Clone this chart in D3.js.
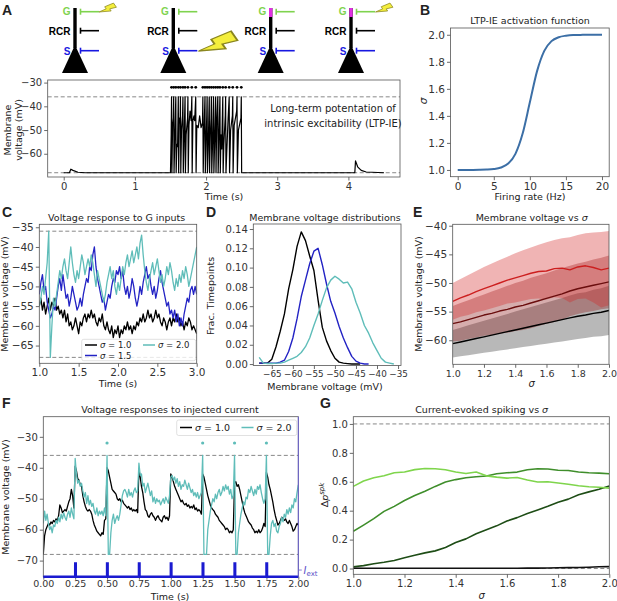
<!DOCTYPE html>
<html>
<head>
<meta charset="utf-8">
<script src="https://cdn.jsdelivr.net/npm/d3@7"></script>
<style>
  body { margin: 0; background: #fff; }
  text { font-family: "DejaVu Sans", sans-serif; fill: #222; }
  .tick text { font-size: 10px; fill: #333; }
  .tick line { stroke: #444; stroke-width: 0.8; }
  .domain { stroke: none; }
</style>
</head>
<body>
<svg id="fig" width="617" height="601"></svg>
<script>

// ---- data ----
var vThresh = -36, vReset = -68;

// A: voltage trace during the protocol, [time s, mV]
var traceA = [[0,-68],[0.08,-68],[0.1,-66.5],[0.13,-67],[0.2,-67.8],[0.3,-68],[1.5,-68],
  [1.51,-52],[1.515,-36],[1.52,-68],[1.53,-48],[1.54,-45],[1.545,-36],[1.55,-68],[1.56,-55],[1.575,-36],[1.58,-68],
  [1.59,-56],[1.6,-57],[1.61,-36],[1.615,-68],[1.625,-45],[1.635,-47],[1.64,-36],[1.645,-68],[1.655,-50],[1.67,-44],
  [1.675,-36],[1.68,-68],[1.69,-56],[1.705,-36],[1.71,-68],[1.72,-52],[1.74,-45],[1.745,-36],[1.75,-68],[1.76,-48],
  [1.775,-42],[1.79,-46],[1.8,-36],[1.805,-68],[1.815,-46],[1.83,-44],[1.84,-46],[1.855,-36],[1.86,-68],[1.87,-48],
  [1.89,-49],[1.91,-44],[1.93,-49],[1.95,-47],[1.955,-36],[1.96,-68],[1.97,-52],[1.985,-36],[1.99,-68],[2.0,-55],
  [2.01,-44],[2.015,-36],[2.02,-68],[2.03,-58],[2.045,-36],[2.05,-68],[2.06,-52],[2.07,-45],[2.075,-36],[2.08,-68],
  [2.09,-57],[2.105,-36],[2.11,-68],[2.12,-56],[2.135,-36],[2.14,-68],[2.15,-47],[2.165,-36],[2.17,-68],[2.18,-55],
  [2.195,-36],[2.2,-68],[2.21,-52],[2.22,-58],[2.235,-36],[2.24,-68],[2.25,-56],[2.27,-44],[2.275,-36],[2.28,-68],
  [2.29,-60],[2.31,-45],[2.325,-36],[2.33,-68],[2.345,-50],[2.37,-44],[2.375,-36],[2.38,-68],[2.395,-48],[2.43,-42],
  [2.435,-36],[2.44,-68],[2.455,-50],[2.49,-45],[2.495,-36],[2.5,-68],[4.09,-68],[4.1,-63],[4.13,-65.5],[4.18,-67],
  [4.25,-67.7],[4.5,-68]];
var spikesA = [1.515,1.545,1.575,1.61,1.64,1.675,1.705,1.745,1.8,1.855,1.955,1.985,2.015,2.045,2.075,2.105,
  2.135,2.165,2.195,2.235,2.275,2.325,2.375,2.435,2.495];
var spikeMarkV = -32;

// B: activation function
var bRate = [0,1,2,3,4,5,6,7,8,9,10,11,12,13,14,15,16,17,18,19,20];
var bSigma = [1.0,1.0001,1.0003,1.0009,1.0025,1.0067,1.018,1.047,1.119,1.269,1.5,1.731,1.881,1.953,1.982,
  1.993,1.998,1.999,2.0,2.0,2.0];

// C: voltage response to G inputs, sampled every 0.02 s from 1.0 s
var cStart = 1.0, cStep = 0.02;
var cSig10 = [-55,-53,-56,-54,-57,-55,-53,-56,-54,-55,-53,-56,-55,-57,-56,-58,-56,-59,-57,-60,-59,-61,-60,-58,
  -60,-62,-59,-60,-58,-57,-59,-57,-58,-56,-58,-57,-59,-60,-58,-59,-57,-60,-61,-59,-61,-62,-60,-63,-61,-62,-60,
  -63,-61,-62,-60,-61,-59,-61,-60,-62,-60,-61,-59,-60,-58,-59,-57,-59,-58,-56,-58,-57,-59,-58,-56,-58,-57,-59,
  -60,-58,-59,-61,-59,-58,-60,-58,-59,-57,-59,-58,-60,-59,-61,-59,-60,-58,-59,-61,-60,-61,-62];
var cSig15 = [-52,-49,-47,-51,-50,-54,-56,-58,-57,-55,-56,-53,-50,-48,-51,-47,-50,-53,-52,-55,-53,-50,-52,-54,
  -56,-55,-53,-55,-52,-50,-48,-49,-45,-46,-42,-40,-45,-48,-50,-52,-54,-53,-56,-54,-52,-53,-50,-48,-49,-46,-47,
  -45,-48,-46,-50,-52,-50,-53,-51,-48,-50,-53,-55,-53,-50,-52,-49,-47,-45,-48,-47,-50,-52,-50,-53,-51,-48,-46,
  -49,-51,-53,-55,-54,-57,-56,-58,-56,-59,-57,-60,-58,-60,-57,-55,-53,-54,-51,-50,-52,-50,-52];
var cSig20 = [-55,-53,-50,-52,-48,-44,-36,-68,-60,-53,-55,-52,-49,-46,-48,-45,-43,-46,-48,-44,-40,-44,-47,-49,
  -46,-48,-45,-42,-44,-47,-45,-43,-45,-42,-44,-47,-50,-46,-48,-50,-52,-54,-52,-49,-47,-45,-48,-46,-50,-52,-49,
  -51,-48,-45,-47,-44,-42,-45,-43,-41,-44,-42,-40,-43,-39,-37,-42,-46,-49,-51,-48,-46,-44,-47,-45,-43,-46,-49,
  -47,-50,-48,-45,-47,-44,-46,-49,-51,-48,-50,-47,-49,-46,-48,-45,-47,-50,-48,-46,-44,-42,-40];

// D: membrane voltage distributions
var dVolt = [-68,-67,-66,-65,-64,-63,-62,-61,-60,-59,-58,-57,-56,-55,-54,-53,-52,-51,-50,-49,-48,-47,-46,-45,
  -44,-43,-42,-41,-40,-39,-38,-37,-36];
var dSig10 = [0.001,0.001,0.001,0.005,0.018,0.034,0.052,0.078,0.098,0.122,0.137,0.128,0.112,0.097,0.066,0.038,
  0.024,0.014,0.006,0.002,0.001,0.0005,0,0,0,null,null,null,null,null,null,null,null];
var dSig15 = [0.001,0.001,0.001,0.001,0.001,0.002,0.004,0.013,0.027,0.047,0.07,0.087,0.104,0.117,0.12,0.103,
  0.083,0.065,0.053,0.039,0.027,0.017,0.008,0.003,0.001,0,0,null,null,null,null,null,null];
var dSig20 = [0.007,0.001,0.0005,0.0005,0.001,0.001,0.002,0.004,0.006,0.008,0.012,0.018,0.027,0.04,0.052,0.066,
  0.079,0.087,0.091,0.088,0.084,0.085,0.078,0.064,0.053,0.04,0.032,0.022,0.014,0.006,0.002,0.001,0];

// E: mean and spread of membrane voltage vs sigma
var eSigma = [1.0,1.05,1.1,1.15,1.2,1.25,1.3,1.35,1.4,1.45,1.5,1.55,1.6,1.65,1.7,1.75,1.8,1.85,1.9,1.95,2.0];
var eBlackMean = [-60.6,-60.3,-60.0,-59.7,-59.4,-59.1,-58.8,-58.5,-58.2,-57.9,-57.6,-57.3,-57.0,-56.7,-56.4,-56.1,
  -55.8,-55.6,-55.3,-55.1,-54.8];
var eBlackLo = [-63.0,-62.8,-62.6,-62.4,-62.2,-62.0,-61.8,-61.6,-61.4,-61.2,-61.0,-60.8,-60.6,-60.4,-60.2,-60.0,
  -59.8,-59.6,-59.4,-59.3,-59.1];
var eBlackHi = [-58.2,-57.8,-57.4,-57.0,-56.6,-56.2,-55.8,-55.4,-55.0,-54.6,-54.2,-53.8,-53.4,-53.0,-52.6,-52.2,
  -51.8,-51.6,-51.2,-50.9,-50.5];
var eDarkMean = [-57.1,-56.8,-56.4,-56.0,-55.6,-55.3,-54.9,-54.6,-54.2,-53.9,-53.5,-53.1,-52.7,-52.3,-51.9,-51.4,
  -51.0,-50.7,-50.4,-50.1,-49.8];
var eDarkLo = [-60.2,-60.1,-59.8,-59.5,-59.2,-59.1,-58.8,-58.7,-58.4,-58.2,-57.9,-57.5,-57.1,-56.8,-56.4,-55.8,
  -55.4,-55.1,-54.9,-54.6,-54.4];
var eDarkHi = [-54.0,-53.5,-53.0,-52.5,-52.0,-51.5,-51.0,-50.5,-50.0,-49.6,-49.1,-48.7,-48.3,-47.8,-47.4,-47.0,
  -46.6,-46.3,-45.9,-45.6,-45.2];
var eRedMean = [-53.2,-52.6,-52.1,-51.5,-51.0,-50.5,-50.0,-49.5,-49.1,-48.7,-48.3,-48.0,-47.9,-47.5,-47.4,-47.7,
  -47.2,-47.0,-47.3,-47.7,-47.4];
var eRedLo = [-56.4,-55.9,-55.6,-55.1,-54.8,-54.4,-54.0,-53.6,-53.4,-53.1,-52.8,-52.7,-52.9,-52.5,-52.6,-53.4,
  -52.8,-52.7,-53.4,-54.3,-53.9];
var eRedHi = [-50.0,-49.3,-48.6,-47.9,-47.2,-46.6,-46.0,-45.4,-44.8,-44.3,-43.8,-43.3,-42.9,-42.5,-42.2,-42.0,
  -41.6,-41.3,-41.2,-41.1,-40.9];

// F: responses to injected current, sampled every 0.01 s from 0 s
var fStep = 0.01;
var fSig10 = [-68,-62,-60,-59,-58,-58.5,-57.5,-58,-57,-57.5,-56.5,-57,-55.5,-52,-53,-54.5,-54,-53.5,-54,-52.5,
  -51,-50,-47,-49,-53,-39.5,-41,-43.5,-44,-45.5,-46,-49,-51,-52.5,-53.5,-54,-53.5,-54,-55,-57,-58.5,-59.5,-60.5,
  -61,-61.5,-62,-61,-61.5,-57,-56.5,-40,-41,-43,-45,-47,-47.5,-48,-48.5,-50,-50.5,-50,-51,-50.5,-51.5,-52,-52.5,
  -53,-52.5,-53.5,-53,-54,-53.5,-54,-53.5,-54.5,-40.5,-43,-46,-48,-51,-53.5,-54,-55.5,-56,-55,-54.5,-55.5,-56,
  -57,-56,-55.5,-56.5,-57,-57.5,-56,-55.5,-56.5,-56,-57,-55.5,-42,-43,-44.5,-46,-47,-48,-49,-50,-51,-50.5,-51.5,
  -52,-51.5,-52.5,-52,-53,-52.5,-53,-52,-53.5,-53,-54,-53.5,-54,-55,-42,-43,-45,-47,-49,-50.5,-52,-53,-53.5,-54,
  -55,-55.5,-56,-57,-57.5,-58,-58.5,-59,-60,-59.5,-60,-61,-60.5,-61,-60,-45,-44.5,-46,-45.5,-47,-49,-51,-53,-54.5,
  -55.5,-56.5,-57.5,-58,-58.5,-59.5,-60,-61,-60.5,-61,-60,-61,-60.5,-59.5,-58,-59,-41.5,-43,-45.5,-47,-49,-51,
  -53.5,-55.5,-57,-58.5,-58,-57,-56,-56.5,-57,-56.5,-57.5,-58,-57,-58,-59,-60.5,-60,-59,-58,-58.5];
var fSig20 = [-58,-54,-57,-55,-58,-60,-59,-61,-58.5,-59,-57,-58,-56,-57.5,-55,-56.5,-54.5,-56,-57,-55,-54,-56,
  -53,-55,-56.5,-37,-42,-45,-44,-46,-45,-47.5,-49.5,-48,-51.5,-49,-52,-50.5,-52.5,-51.5,-54,-55,-53,-55.5,-54,
  -55,-54,-55.5,-53,-55.5,-36,-68,-68,-61,-57,-55,-58,-56.5,-55.5,-57,-55,-52,-49,-47.5,-47,-48,-49.5,-47,-49,
  -48,-49.5,-47.5,-46.5,-48,-47.5,-38.5,-42.5,-42,-46,-45,-48,-46.5,-45,-47,-49,-47.5,-51,-49.5,-51.5,-50,-51,
  -50.5,-52,-51,-50,-51.5,-49.5,-50.5,-51.5,-49,-43,-42.5,-44,-43,-45,-43.5,-46,-44.5,-47,-45.5,-46,-44,-45.5,
  -47,-45,-46.5,-48,-47,-49,-48,-49.5,-48,-50,-49,-48,-36,-68,-68,-68,-60,-57,-54,-52,-50,-51,-48.5,-50,-48,-47,
  -49,-48,-46,-47.5,-45.5,-47,-46,-48.5,-47,-50,-49,-36,-68,-68,-61,-58,-55,-53,-51,-52,-49.5,-50,-47,-48,-46,
  -47.5,-49,-47,-48.5,-46,-47,-45.5,-48,-50,-51.5,-50,-36,-68,-68,-62,-58,-57,-59,-58,-60.5,-61,-59,-58,-56,
  -57.5,-55,-56,-53.5,-55,-53,-54.5,-52,-53,-50,-51,-48,-45.5];
var fSpikes = [0.5,1.25,1.5,1.75];
var fPulses = [0.25,0.5,0.75,1.0,1.25,1.5,1.75];
var fPulseLen = 0.005;

// G: current-evoked spiking vs sigma
var gSigma = [1.0,1.04,1.08,1.12,1.16,1.2,1.24,1.28,1.32,1.36,1.4,1.44,1.48,1.52,1.56,1.6,1.64,1.68,1.72,1.76,
  1.8,1.84,1.88,1.92,1.96,2.0];
var gLight = [0.568,0.605,0.628,0.642,0.662,0.668,0.684,0.692,0.69,0.683,0.668,0.657,0.667,0.641,0.632,0.625,
  0.63,0.612,0.598,0.6,0.592,0.583,0.572,0.565,0.562,0.556];
var gMid = [0.257,0.3,0.345,0.395,0.43,0.47,0.505,0.535,0.568,0.598,0.615,0.628,0.635,0.64,0.655,0.662,0.667,
  0.683,0.69,0.688,0.68,0.678,0.668,0.662,0.66,0.655];
var gDark = [0.012,0.02,0.033,0.043,0.055,0.075,0.092,0.108,0.122,0.145,0.18,0.205,0.24,0.268,0.295,0.328,0.352,
  0.38,0.405,0.43,0.458,0.48,0.51,0.53,0.548,0.57];
var gBlack = [0.003,0.002,0.002,0.002,0.002,0.002,0.002,0.002,0.002,0.002,0.002,0.002,0.002,0.002,0.002,0.002,
  0.002,0.003,0.003,0.004,0.005,0.006,0.007,0.009,0.012,0.013];

var cBlue = "#2323c4", cCyan = "#5fbdb9";

// ---- helpers ----
var svg = d3.select("#fig");
var nPanel = 0;

function panel(o) {
  nPanel++;
  var ts = o.ts || 3.5, tp = o.tp || 2;
  var x = d3.scaleLinear().domain(o.xd).range([o.left, o.right]);
  var y = d3.scaleLinear().domain(o.yd).range([o.bottom, o.top]);
  var g = svg.append("g");
  svg.append("clipPath").attr("id", "clip" + nPanel)
    .append("rect")
    .attr("x", o.left).attr("y", o.top)
    .attr("width", o.right - o.left).attr("height", o.bottom - o.top);
  var plot = g.append("g").attr("clip-path", "url(#clip" + nPanel + ")");
  var ax = g.append("g").attr("transform", "translate(0," + o.bottom + ")")
    .call(d3.axisBottom(x).tickValues(o.xt).tickFormat(d3.format(o.xf)).tickSize(ts).tickPadding(tp));
  var ay = g.append("g").attr("transform", "translate(" + o.left + ",0)")
    .call(d3.axisLeft(y).tickValues(o.yt).tickFormat(d3.format(o.yf)).tickSize(3.5).tickPadding(2));
  ax.selectAll(".tick text").style("font-size", (o.xfs || o.fs) + "px");
  ay.selectAll(".tick text").style("font-size", o.fs + "px");
  var frame = g.append("rect")
    .attr("x", o.left).attr("y", o.top)
    .attr("width", o.right - o.left).attr("height", o.bottom - o.top)
    .attr("fill", "none").attr("stroke", "#555").attr("stroke-width", 0.8);
  return { x: x, y: y, g: g, plot: plot, o: o, frame: frame };
}

function text(x, y, s, size, anchor, rot) {
  var t = svg.append("text")
    .attr("x", x).attr("y", y)
    .attr("font-size", size)
    .attr("text-anchor", anchor || "middle")
    .text(s);
  if (rot) t.attr("transform", "rotate(" + rot + "," + x + "," + y + ")");
  return t;
}

function letter(x, y, s) {
  svg.append("text").attr("x", x).attr("y", y)
    .style("font-family", "'Liberation Sans', Arial, sans-serif")
    .style("font-weight", "bold").attr("font-size", 14).text(s);
}

function hdash(p, v) {
  p.plot.append("line")
    .attr("x1", p.o.left).attr("x2", p.o.right)
    .attr("y1", p.y(v)).attr("y2", p.y(v))
    .attr("stroke", "#888").attr("stroke-width", 1).attr("stroke-dasharray", "4,2.5");
}

function drawLine(p, pts, color, w) {
  p.plot.append("path").datum(pts)
    .attr("fill", "none").attr("stroke", color).attr("stroke-width", w)
    .attr("stroke-linejoin", "round")
    .attr("d", d3.line()
      .defined(function(d) { return d[1] !== null; })
      .x(function(d) { return p.x(d[0]); })
      .y(function(d) { return p.y(d[1]); }));
}

function zip(xs, ys) {
  return ys.map(function(v, i) { return [xs[i], v]; });
}

function sampled(t0, dt, ys) {
  return ys.map(function(v, i) { return [t0 + i * dt, v]; });
}

function sigmaText(x, y, rest, size, anchor) {
  var t = svg.append("text").attr("x", x).attr("y", y)
    .attr("font-size", size).attr("text-anchor", anchor || "start");
  t.append("tspan").style("font-style", "italic").text("σ");
  if (rest) t.append("tspan").text(rest);
  return t;
}

// ---- A: schematic neurons ----
var cGreen = "#7fd34e", cS = "#1818e0", cMag = "#e030e0";

function bolt(tx, ty, s, rot) {
  var pts = [[0.1,-1],[0.6,-1],[0.35,-0.62],[0.6,-0.62],[0,0],[0.15,-0.45],[-0.1,-0.45]];
  svg.append("polygon")
    .attr("points", pts.map(function(p) { return p.join(","); }).join(" "))
    .attr("transform", "translate(" + tx + "," + ty + ") rotate(" + rot + ") scale(" + (s * 0.6) + "," + s + ")")
    .attr("fill", "#f4ee3c").attr("stroke", "#8a8620").attr("stroke-width", 0.05);
}

function neuron(cx, mag) {
  var g = svg.append("g");
  g.append("rect").attr("x", cx - 1.7).attr("y", 8).attr("width", 3.4).attr("height", 40).attr("fill", "#000");
  if (mag) g.append("rect").attr("x", cx - 1.7).attr("y", 8).attr("width", 3.4).attr("height", 9).attr("fill", cMag);
  g.append("polygon")
    .attr("points", [[cx, 45], [cx - 13, 73], [cx + 13, 73]].map(function(p) { return p.join(","); }).join(" "))
    .attr("fill", "#000");
  var inputs = [["G", 11.7, cGreen, 15], ["RCR", 30.7, "#000", 34.5], ["S", 50.7, cS, 54.5]];
  inputs.forEach(function(d) {
    g.append("text").attr("x", cx - 4.5).attr("y", d[3]).attr("text-anchor", "end")
      .style("font-family", "'Liberation Sans', Arial, sans-serif").style("font-weight", "bold")
      .attr("font-size", 10).style("fill", d[2]).text(d[0]);
    g.append("line").attr("x1", cx + 5.5).attr("x2", cx + 24).attr("y1", d[1]).attr("y2", d[1])
      .attr("stroke", d[2]).attr("stroke-width", 1.6);
    g.append("line").attr("x1", cx + 5.5).attr("x2", cx + 5.5).attr("y1", d[1] - 3).attr("y2", d[1] + 3)
      .attr("stroke", d[2]).attr("stroke-width", 1.6);
  });
}

neuron(75, false);
neuron(173.3, false);
neuron(270.7, true);
neuron(351, true);
bolt(99, 12, 17, 55);
bolt(198.5, 51, 38, 55);
bolt(375.5, 12, 17, 55);

// ---- A: trace ----
var pA = panel({ left: 47.7, right: 400, top: 80, bottom: 177, xd: [-0.225, 4.725], yd: [-69.8, -28.9],
  xt: [0, 1, 2, 3, 4], xf: "d", yt: [-30, -40, -50, -60], yf: "d", fs: 10 });
hdash(pA, vThresh);
hdash(pA, vReset);
drawLine(pA, traceA, "#000", 1.2);
pA.plot.selectAll("circle.sp").data(spikesA).enter().append("circle")
  .attr("cx", function(d) { return pA.x(d); }).attr("cy", pA.y(spikeMarkV)).attr("r", 1.4).attr("fill", "#000");
text(333, 112, "Long-term potentation of", 10);
text(333, 127, "intrinsic excitability (LTP-IE)", 10);
text(11, 130, "Membrane", 9.5, "middle", -90);
text(22, 130, "voltage (mV)", 9.5, "middle", -90);
text(224, 200, "Time (s)", 9.5);
letter(2, 15, "A");

// ---- B ----
var pB = panel({ left: 450.5, right: 609.2, top: 28, bottom: 176.7, xd: [-1, 21], yd: [0.95, 2.05],
  xt: [0, 5, 10, 15, 20], xf: "d", yt: [1.0, 1.2, 1.4, 1.6, 1.8, 2.0], yf: ".1f", fs: 10.5 });
pB.plot.append("path").datum(zip(bRate, bSigma))
  .attr("fill", "none").attr("stroke", "#3c6fa6").attr("stroke-width", 2)
  .attr("d", d3.line().curve(d3.curveMonotoneX)
    .x(function(d) { return pB.x(d[0]); }).y(function(d) { return pB.y(d[1]); }));
text(530, 24, "LTP-IE activation function", 9.5);
text(530, 200, "Firing rate (Hz)", 9.5);
sigmaText(427, 101, null, 10.5, "middle").attr("transform", "rotate(-90,427,101)");
letter(420, 15, "B");

// ---- C ----
var pC = panel({ left: 39.3, right: 196.7, top: 224.3, bottom: 363.3, xd: [1, 3], yd: [-69.5, -34.25],
  xt: [1.0, 1.5, 2.0, 2.5, 3.0], xf: ".1f", yt: [-35, -40, -45, -50, -55, -60, -65], yf: "d", fs: 10.5 });
hdash(pC, vThresh);
hdash(pC, vReset);
drawLine(pC, sampled(cStart, cStep, cSig10), "#000", 1.3);
drawLine(pC, sampled(cStart, cStep, cSig15), cBlue, 1.3);
drawLine(pC, sampled(cStart, cStep, cSig20), cCyan, 1.3);
// legend
pC.g.append("rect").attr("x", 81.7).attr("y", 339.3).attr("width", 114).attr("height", 21.4).attr("rx", 2)
  .attr("fill", "#fff").attr("fill-opacity", 0.8).attr("stroke", "#ccc").attr("stroke-width", 0.6);
[[85, 345, "#000", " = 1.0"], [85, 355.5, cBlue, " = 1.5"], [143, 345, cCyan, " = 2.0"]].forEach(function(d) {
  svg.append("line").attr("x1", d[0]).attr("x2", d[0] + 12).attr("y1", d[1]).attr("y2", d[1])
    .attr("stroke", d[2]).attr("stroke-width", 1.5);
  sigmaText(d[0] + 15, d[1] + 3, d[3], 8.5);
});
text(116.7, 220.5, "Voltage response to G inputs", 9.5);
text(7.5, 294, "Membrane voltage (mV)", 9.5, "middle", -90);
text(118, 386.5, "Time (s)", 9.5);
letter(2, 217, "C");

// ---- D ----
var pD = panel({ left: 253.3, right: 401, top: 224, bottom: 365.5, xd: [-69.4, -34.3], yd: [-0.0015, 0.1452],
  xt: [-65, -60, -55, -50, -45, -40, -35], xf: "d", yt: [0, 0.02, 0.04, 0.06, 0.08, 0.1, 0.12, 0.14], yf: ".2f",
  fs: 10, xfs: 8.8 });
drawLine(pD, zip(dVolt, dSig10), "#000", 1.4);
drawLine(pD, zip(dVolt, dSig15), cBlue, 1.4);
drawLine(pD, zip(dVolt, dSig20), cCyan, 1.4);
text(325, 220.5, "Membrane voltage distributions", 9.5);
text(214, 296, "Frac. Timepoints", 9.5, "middle", -90);
text(325, 389.5, "Membrane voltage (mV)", 9.5);
letter(206, 217, "D");

// ---- E ----
var pE = panel({ left: 452.7, right: 609, top: 224.3, bottom: 364.3, xd: [1, 2], yd: [-64.2, -39.75],
  xt: [1.0, 1.2, 1.4, 1.6, 1.8, 2.0], xf: ".1f", yt: [-40, -45, -50, -55, -60], yf: "d", fs: 10.5, xfs: 9.5 });
function band(p, xs, lo, hi, color, op) {
  p.plot.append("path").datum(xs.map(function(s, i) { return [s, lo[i], hi[i]]; }))
    .attr("fill", color).attr("fill-opacity", op)
    .attr("d", d3.area()
      .x(function(d) { return p.x(d[0]); })
      .y0(function(d) { return p.y(d[1]); })
      .y1(function(d) { return p.y(d[2]); }));
}
band(pE, eSigma, eBlackLo, eBlackHi, "#000", 0.28);
band(pE, eSigma, eDarkLo, eDarkHi, "#8a1414", 0.35);
band(pE, eSigma, eRedLo, eRedHi, "#d42828", 0.35);
drawLine(pE, zip(eSigma, eBlackMean), "#000", 1.4);
drawLine(pE, zip(eSigma, eDarkMean), "#6a0e0e", 1.4);
drawLine(pE, zip(eSigma, eRedMean), "#cc1f1f", 1.4);
var eTitle = text(531.7, 220.5, "Membrane voltage vs ", 9.5);
eTitle.append("tspan").style("font-style", "italic").text("σ");
text(421.5, 294, "Membrane voltage (mV)", 9.5, "middle", -90);
sigmaText(531.7, 386.5, null, 10, "middle");
letter(413, 217, "E");

// ---- F ----
var pF = panel({ left: 43.3, right: 298.3, top: 416.7, bottom: 576.7, xd: [0, 2], yd: [-75.2, -23.5],
  xt: [0, 0.25, 0.5, 0.75, 1.0, 1.25, 1.5, 1.75, 2.0], xf: ".2f", yt: [-30, -40, -50, -60, -70], yf: "d",
  fs: 10, xfs: 9.5, ts: 3, tp: 1 });
hdash(pF, vThresh);
hdash(pF, vReset);
drawLine(pF, sampled(0, fStep, fSig10), "#000", 1.3);
drawLine(pF, sampled(0, fStep, fSig20), cCyan, 1.3);
pF.plot.selectAll("circle.sp").data(fSpikes).enter().append("circle")
  .attr("cx", function(d) { return pF.x(d); }).attr("cy", pF.y(spikeMarkV)).attr("r", 1.6).attr("fill", cCyan);
// injected current on a twin axis
var yI = d3.scaleLinear().domain([0, 12]).range([576.7, 416.7]);
var iPts = [[0, 0]];
fPulses.forEach(function(t) {
  iPts.push([t, 0], [t, 1], [t + fPulseLen, 1], [t + fPulseLen, 0]);
});
iPts.push([2, 0]);
pF.g.append("path").datum(iPts)
  .attr("fill", "none").attr("stroke", "#1a1ad0").attr("stroke-width", 2.4)
  .attr("d", d3.line().x(function(d) { return pF.x(d[0]); }).y(function(d) { return yI(d[1]); }));
pF.g.append("line").attr("x1", 298.3).attr("x2", 298.3).attr("y1", 416.7).attr("y2", 576.7)
  .attr("stroke", "#6a60d0").attr("stroke-width", 1);
pF.g.append("line").attr("x1", 298.3).attr("x2", 301.8).attr("y1", yI(0.5)).attr("y2", yI(0.5))
  .attr("stroke", "#6a60d0").attr("stroke-width", 0.8);
var iLab = svg.append("text").attr("x", 303.5).attr("y", yI(0.5) + 3.5).attr("font-size", 10).style("fill", "#5a50c8");
iLab.append("tspan").style("font-style", "italic").style("fill", "#5a50c8").text("I");
iLab.append("tspan").attr("font-size", 7).attr("dy", 2).style("fill", "#5a50c8").text("ext");
// legend
pF.g.append("rect").attr("x", 176.7).attr("y", 420).attr("width", 120).attr("height", 15.5).attr("rx", 2)
  .attr("fill", "#fff").attr("fill-opacity", 0.8).attr("stroke", "#ccc").attr("stroke-width", 0.6);
[[180, "#000", " = 1.0"], [241.5, cCyan, " = 2.0"]].forEach(function(d) {
  svg.append("line").attr("x1", d[0]).attr("x2", d[0] + 12).attr("y1", 427.5).attr("y2", 427.5)
    .attr("stroke", d[1]).attr("stroke-width", 1.5);
  sigmaText(d[0] + 15, 431, d[2], 9.5);
});
text(170, 413, "Voltage responses to injected current", 9.5);
text(9, 497, "Membrane voltage (mV)", 9.5, "middle", -90);
text(170, 600, "Time (s)", 9.5);
letter(2, 408, "F");

// ---- G ----
var pG = panel({ left: 353.3, right: 609.3, top: 416.7, bottom: 574.3, xd: [1, 2], yd: [-0.04, 1.05],
  xt: [1.0, 1.2, 1.4, 1.6, 1.8, 2.0], xf: ".1f", yt: [0, 0.2, 0.4, 0.6, 0.8, 1.0], yf: ".1f", fs: 10 });
hdash(pG, 1.0);
hdash(pG, 0.0);
drawLine(pG, zip(gSigma, gBlack), "#111", 1.6);
drawLine(pG, zip(gSigma, gDark), "#1e4d16", 1.6);
drawLine(pG, zip(gSigma, gMid), "#3f8e2b", 1.6);
drawLine(pG, zip(gSigma, gLight), "#7fd54c", 1.6);
var gTitle = text(481.7, 413, "Current-evoked spiking vs ", 9.5);
gTitle.append("tspan").style("font-style", "italic").text("σ");
var gy = svg.append("text").attr("x", 328).attr("y", 495).attr("font-size", 9.5).attr("text-anchor", "middle")
  .attr("transform", "rotate(-90,328,495)");
gy.append("tspan").text("Δ");
gy.append("tspan").style("font-style", "italic").text("p");
gy.append("tspan").style("font-style", "italic").attr("font-size", 7).attr("dy", -4).text("spk");
sigmaText(481.7, 599, null, 10, "middle");
letter(320, 408, "G");

</script>
</body>
</html>
